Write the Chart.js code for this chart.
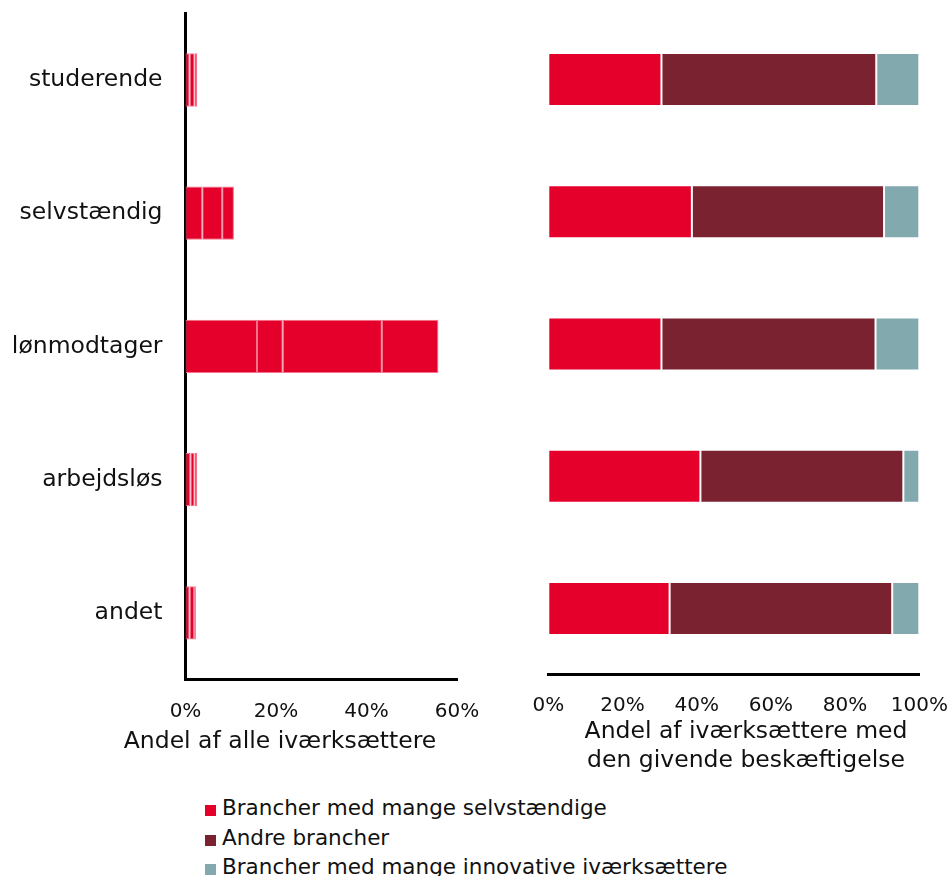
<!DOCTYPE html>
<html>
<head>
<meta charset="utf-8">
<script src="https://cdn.jsdelivr.net/npm/chart.js@4"></script>
<style>
  body { margin: 0; background: #fff; font-family: "DejaVu Sans", sans-serif; overflow: hidden; }
  #wrap { position: relative; width: 950px; height: 876px; }
  #left { position: absolute; left: 0; top: 0; }
  #right { position: absolute; left: 520px; top: 0; }
  #legend { position: absolute; left: 205px; top: 793px; font-size: 21.5px; color: #111; }
  #legend div { height: 29.5px; line-height: 29.5px; white-space: nowrap; }
  #legend span { display: inline-block; width: 11px; height: 11px; margin-right: 6px; vertical-align: -1px; }
</style>
</head>
<body>
<div id="wrap">
  <div id="left"><canvas id="chartLeft" width="560" height="756"></canvas></div>
  <div id="right"><canvas id="chartRight" width="430" height="775"></canvas></div>
  <div id="legend"></div>
</div>
<script>
const categories = ['studerende', 'selvstændig', 'lønmodtager', 'arbejdsløs', 'andet'];

// left panel: share of all entrepreneurs (%), four segments per bar
const leftSeg1 = [0.9, 3.7, 15.8, 1.1, 0.9];
const leftSeg2 = [1.1, 4.4, 5.7, 0.9, 1.0];
const leftSeg3 = [0.6, 2.6, 21.9, 0.6, 0.4];
const leftSeg4 = [null, null, 12.5, null, null];

// right panel: share within each occupation (%)
const seriesNames = ['Brancher med mange selvstændige', 'Andre brancher', 'Brancher med mange innovative iværksættere'];
const selvstaendigeValues = [30.5, 38.7, 30.5, 41.0, 32.7];
const andreValues = [57.9, 51.8, 57.7, 54.7, 60.0];
const innovativeValues = [11.6, 9.5, 11.8, 4.3, 7.3];

const leftTitle = 'Andel af alle iværksættere';
const rightTitle = ['Andel af iværksættere med', 'den givende beskæftigelse'];

const red = '#E4002B';
const darkRed = '#7A2230';
const teal = '#82A9AE';
const textColor = '#111';
const font = 'DejaVu Sans';

function pct(v) { return v + '%'; }

// fix an axis' size and drop the extra padding chart.js adds for edge labels
function fixSize(w, h) {
    return function (s) {
        if (w !== null) s.width = w;
        if (h !== null) s.height = h;
        s.paddingLeft = 0;
        s.paddingRight = 0;
        s.paddingTop = 0;
        s.paddingBottom = 0;
    };
}

// invisible right-hand spacer, used to shift where the bottom title is centred
function spacer(w) {
    return {
        axis: 'y',
        type: 'category',
        position: 'right',
        grid: { display: false, drawTicks: false },
        border: { display: false },
        ticks: { display: false },
        afterFit: fixSize(w, null)
    };
}

function leftDataset(label, data) {
    return {
        label: label,
        data: data,
        backgroundColor: red,
        borderColor: '#F2738B',
        borderWidth: 1,
        borderSkipped: false
    };
}

new Chart(document.getElementById('chartLeft'), {
    type: 'bar',
    data: {
        labels: categories,
        datasets: [
            leftDataset('Del 1', leftSeg1),
            leftDataset('Del 2', leftSeg2),
            leftDataset('Del 3', leftSeg3),
            leftDataset('Del 4', leftSeg4)
        ]
    },
    options: {
        indexAxis: 'y',
        responsive: false,
        animation: false,
        barPercentage: 0.4,
        categoryPercentage: 1,
        layout: { padding: { left: 0, top: 13.4, right: 0, bottom: 0 } },
        plugins: {
            legend: { display: false },
            tooltip: { enabled: false },
            title: { display: true, position: 'bottom', text: leftTitle, color: textColor, padding: 0, font: { family: font, size: 23.5, weight: 'normal', lineHeight: 1.2 } }
        },
        scales: {
            x: {
                stacked: true,
                min: 0,
                max: 60,
                grid: { display: false, drawTicks: false },
                border: { display: true, color: '#000', width: 3 },
                ticks: { stepSize: 20, callback: pct, padding: 20.4, color: textColor, font: { family: font, size: 20 }, maxRotation: 0 },
                afterFit: fixSize(null, 48.3)
            },
            y: {
                stacked: true,
                grid: { display: false, drawTicks: false },
                border: { display: true, color: '#000', width: 3 },
                ticks: { padding: 23, color: textColor, font: { family: font, size: 23.5 } },
                afterFit: fixSize(185.5, null)
            },
            yPad: spacer(103)
        }
    }
});

const rightChart = new Chart(document.getElementById('chartRight'), {
    type: 'bar',
    data: {
        labels: categories,
        datasets: [
            { label: seriesNames[0], data: selvstaendigeValues, backgroundColor: red, borderColor: 'rgba(255,255,255,0.35)', borderWidth: 1, borderSkipped: false },
            { label: seriesNames[1], data: andreValues, backgroundColor: darkRed, borderColor: 'rgba(255,255,255,0.35)', borderWidth: 1, borderSkipped: false },
            { label: seriesNames[2], data: innovativeValues, backgroundColor: teal, borderColor: 'rgba(255,255,255,0.35)', borderWidth: 1, borderSkipped: false }
        ]
    },
    options: {
        indexAxis: 'y',
        responsive: false,
        animation: false,
        barPercentage: 0.4,
        categoryPercentage: 1,
        layout: { padding: { left: 28.3, top: 13.35, right: 6.3, bottom: 0 } },
        plugins: {
            legend: { display: false },
            tooltip: { enabled: false },
            title: { display: true, position: 'bottom', text: rightTitle, color: textColor, padding: 0, font: { family: font, size: 23.5, weight: 'normal', lineHeight: 1.234 } }
        },
        scales: {
            x: {
                stacked: true,
                min: 0,
                max: 100,
                grid: { display: false, drawTicks: false },
                border: { display: true, color: '#000', width: 3 },
                ticks: { stepSize: 20, callback: pct, padding: 18.9, color: textColor, font: { family: font, size: 20 }, maxRotation: 0 },
                afterFit: fixSize(null, 42.4)
            },
            y: {
                stacked: true,
                display: false
            },
            yPad: spacer(24.4)
        }
    }
});

// legend from the right chart's datasets
const legendBox = document.getElementById('legend');
rightChart.data.datasets.forEach(function (ds) {
    const row = document.createElement('div');
    const swatch = document.createElement('span');
    swatch.style.background = ds.backgroundColor;
    row.appendChild(swatch);
    row.appendChild(document.createTextNode(ds.label));
    legendBox.appendChild(row);
});
</script>
</body>
</html>
